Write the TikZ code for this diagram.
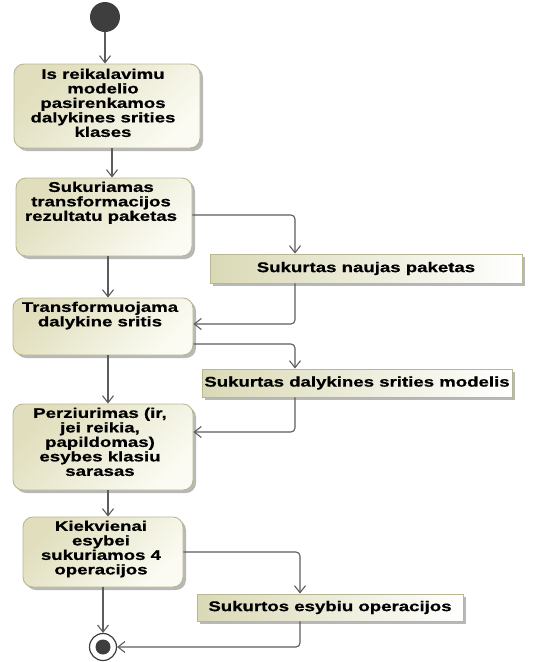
\documentclass[tikz,border=0pt]{standalone}
\usepackage{fontspec}
\setmainfont{Liberation Sans}[FakeStretch=1.33, BoldFeatures={FakeBold=0.6}]
\usetikzlibrary{arrows.meta,shadows}
\definecolor{actA}{HTML}{E0DEBC}
\definecolor{actB}{HTML}{FBFBF3}
\definecolor{objA}{HTML}{DAD9B6}
\definecolor{edge}{HTML}{B9B791}
\definecolor{flowc}{HTML}{5C5C5C}
\definecolor{dot}{HTML}{3E3E3E}
\tikzset{
  action/.style={rectangle, rounded corners=10pt, draw=edge, line width=0.9pt,
    top color=actA, bottom color=actB, shading angle=45,
    drop shadow={shadow xshift=3pt, shadow yshift=-3pt, fill=black!28, opacity=1},
    inner sep=0pt},
  objbox/.style={rectangle, draw=edge, line width=0.9pt,
    left color=objA, right color=white,
    drop shadow={shadow xshift=3pt, shadow yshift=-3pt, fill=black!28, opacity=1},
    inner sep=0pt, font=\bfseries\fontsize{14}{14.5}\selectfont},
  label text/.style={anchor=north, inner sep=0pt, align=center,
    font=\bfseries\fontsize{14}{14.5}\selectfont},
  flow/.style={draw=flowc, line width=1.1pt, rounded corners=4pt,
    -{Straight Barb[length=7pt,width=11pt]}},
}
\begin{document}
\begin{tikzpicture}[x=1pt,y=-1pt]
\useasboundingbox (0,0) rectangle (536,662);

% start and end
\node[circle, fill=dot, minimum size=30pt, inner sep=0pt] (init) at (105,17) {};
\node[circle, draw=dot, fill=white, line width=1.2pt, minimum size=27pt, inner sep=0pt] (final) at (103,647) {};
\node[circle, fill=dot, minimum size=15pt, inner sep=0pt] (finaldot) at (final.center) {};

% actions
\node[action, minimum width=186pt, minimum height=84pt] (b1) at (107,106) {};
\node[label text] (t1) at ([xshift=-4pt,yshift=-5pt]b1.north) {Is reikalavimu\\modelio\\pasirenkamos\\dalykines srities\\klases};

\node[action, minimum width=176pt, minimum height=78pt] (b2) at (104,217) {};
\node[label text] (t2) at ([xshift=-3pt,yshift=-4pt]b2.north) {Sukuriamas\\transformacijos\\rezultatu paketas};

\node[action, minimum width=180pt, minimum height=57pt] (b3) at (103,326.5) {};
\node[label text] (t3) at ([xshift=-3pt,yshift=-4pt]b3.north) {Transformuojama\\dalykine sritis};

\node[action, minimum width=180pt, minimum height=86pt] (b4) at (103,447) {};
\node[label text] (t4) at ([xshift=-3pt,yshift=-4pt]b4.north) {Perziurimas (ir,\\jei reikia,\\papildomas)\\esybes klasiu\\sarasas};

\node[action, minimum width=160pt, minimum height=70pt] (b5) at (103,552) {};
\node[label text] (t5) at ([xshift=-2pt,yshift=-4pt]b5.north) {Kiekvienai\\esybei\\sukuriamos 4\\operacijos};

% object nodes
\node[objbox, minimum width=312pt, minimum height=29pt] (o1) at (366,268.5) {Sukurtas naujas paketas};
\node[objbox, minimum width=310pt, minimum height=28pt] (o2) at (357,383) {Sukurtas dalykines srities modelis};
\node[objbox, minimum width=266pt, minimum height=27pt] (o3) at (330,607.5) {Sukurtos esybiu operacijos};

% columns of the object flows
\coordinate (colA) at (295,0);
\coordinate (colB) at (300,0);

% control flow
\draw[flow] (init) -- (init |- b1.north);
\draw[flow] ([xshift=5pt]b1.south) -- ([xshift=5pt]b1.south |- b2.north);
\draw[flow] ([xshift=4pt]b2.south) -- ([xshift=4pt]b2.south |- b3.north);
\draw[flow] ([xshift=5pt]b3.south) -- ([xshift=5pt]b3.south |- b4.north);
\draw[flow] ([xshift=5pt]b4.south) -- ([xshift=5pt]b4.south |- b5.north);
\draw[flow] (b5.south) -- (final);

% object flow
\draw[flow] ([yshift=2pt]b2.east) -| (colA |- o1.north);
\draw[flow] (colA |- o1.south) |- ([yshift=2.5pt]b3.east);
\draw[flow] ([yshift=-17.5pt]b3.east) -| (colA |- o2.north);
\draw[flow] (colA |- o2.south) |- ([yshift=15pt]b4.east);
\draw[flow] (b5.east) -| (colB |- o3.north);
\draw[flow] (colB |- o3.south) |- (final.east);
\end{tikzpicture}
\end{document}
